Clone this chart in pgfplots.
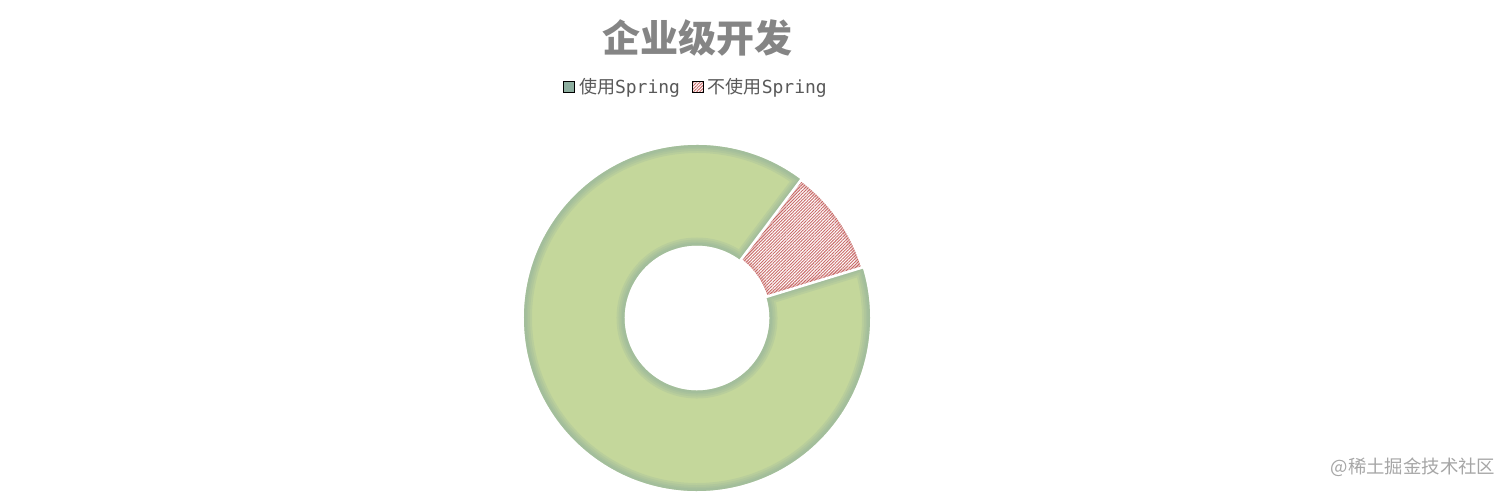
\documentclass[border=0pt]{standalone}
\usepackage{fontspec}
\setmainfont{Noto Sans CJK SC}
\setmonofont{DejaVu Sans Mono}
\usepackage{pgfplots}
\usepackage{pgfplotstable}
\pgfplotsset{compat=1.18}
\usetikzlibrary{patterns.meta}

\definecolor{sliceGreen}{HTML}{C4D79B}
\definecolor{edgeTeal}{HTML}{8DAE9F}
\definecolor{hatchRed}{HTML}{C0504D}
\definecolor{titleGray}{HTML}{858585}
\definecolor{textGray}{HTML}{595959}
\definecolor{markGray}{HTML}{A6A6A6}

% share of each slice, in percent
\pgfplotstableread{
share
90
10
}\sharetable

% annulus sector between two angles, centre at the axis origin
\newcommand\sector[2]{(axis cs:0,0) ++(#1:86.5bp)
  arc[start angle=#1, end angle=#2, radius=86.5bp]
  -- ++(#2:-50.25bp)
  arc[start angle=#2, end angle=#1, radius=36.25bp] -- cycle}

\begin{document}
\begin{tikzpicture}
\useasboundingbox (0,0) rectangle (756bp,248.5bp);
\pgfplotstablegetelem{0}{share}\of\sharetable \let\shareA\pgfplotsretval
\pgfplotstablegetelem{1}{share}\of\sharetable \let\shareB\pgfplotsretval
\pgfmathsetmacro{\angA}{17}
\pgfmathsetmacro{\angB}{\angA+3.6*\shareB}
\pgfmathsetmacro{\angC}{\angB+3.6*\shareA}

\begin{axis}[
    at={(348.5bp,89.5bp)}, anchor=center,
    width=173bp, height=173bp, scale only axis,
    hide axis, clip=false,
    xmin=-1, xmax=1, ymin=-1, ymax=1,
    title={企业级开发},
    title style={at={(0.5,1.276)}, anchor=center, yshift=0pt, text=titleGray,
        font=\bfseries\fontsize{19bp}{22bp}\selectfont},
    legend columns=2,
    legend style={at={(0.5,1.1676)}, anchor=center, draw=none,
        text=textGray, font=\fontsize{9bp}{11bp}\selectfont,
        /tikz/every even column/.append style={column sep=4bp}},
    legend image code/.code={\fill[#1] (0bp,-2.75bp) rectangle (5.5bp,2.75bp);},
  ]
\addlegendimage{fill=edgeTeal}
\addlegendentry{使用\texttt{Spring}}
\addlegendimage{pattern={Lines[angle=45,distance=1.1pt,line width=0.45pt]}, pattern color=hatchRed!85}
\addlegendentry{不使用\texttt{Spring}}

% green slice
\fill[sliceGreen] \sector{\angB}{\angC};
\begin{scope}
  \clip \sector{\angB}{\angC};
  \pgfplotsinvokeforeach{8,6,4,2.5}{
    \draw[edgeTeal, line width=#1bp, opacity=0.2] \sector{\angB}{\angC};
  }
\end{scope}

% red slice
\fill[white] \sector{\angA}{\angB};
\fill[pattern={Lines[angle=45,distance=1.1pt,line width=0.45pt]}, pattern color=hatchRed!85] \sector{\angA}{\angB};
\begin{scope}
  \clip \sector{\angA}{\angB};
  \pgfplotsinvokeforeach{5,3}{
    \draw[hatchRed, line width=#1bp, opacity=0.15] \sector{\angA}{\angB};
  }
\end{scope}

% white gaps between slices
\draw[white, line width=1.3bp] \sector{\angA}{\angB};
\end{axis}

\node[text=markGray, font=\fontsize{9.2bp}{11bp}\selectfont] at (706.5bp,15bp) {@稀土掘金技术社区};
\end{tikzpicture}
\end{document}
